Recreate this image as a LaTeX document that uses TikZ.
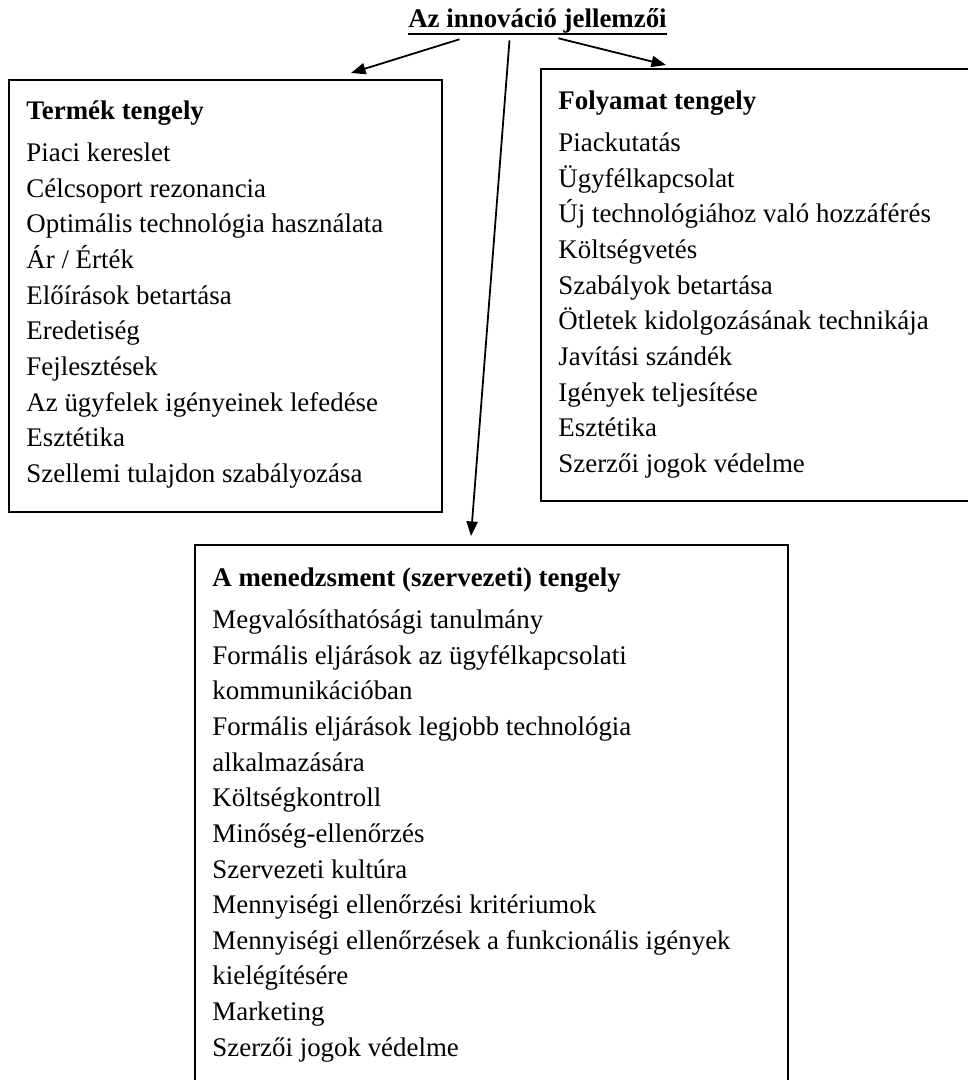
\documentclass[tikz,border=0pt]{standalone}
\usepackage{fontspec}
\setmainfont{Liberation Serif}
\usetikzlibrary{arrows.meta,positioning,calc,fit}
\newcommand{\alahuzott}[1]{\setbox0\hbox{#1}\rlap{\raisebox{-3.5pt}{\rule{\wd0}{0.9pt}}}\box0}

\begin{document}
\begin{tikzpicture}[
  x=0.01568cm, y=-0.01568cm,
  box/.style={draw, rectangle, line width=0.9pt, inner sep=0pt},
  lista/.style={anchor=north west, inner sep=0pt, align=left, font=\fontsize{12}{15.9}\selectfont},
  >={Triangle[length=6.5pt,width=5pt]}
]
  \useasboundingbox (0,0) rectangle (968,1080);

  % Title
  \node[inner sep=0pt, anchor=base, font=\fontsize{12}{15.9}\selectfont\bfseries] (titel) at (537.5,27) {\alahuzott{Az innováció jellemzői}};

  % Boxes
  \node[box, fit={(9,80) (442,512)}] (termek) {};
  \node[box, fit={(541,69) (975,501)}] (folyamat) {};
  \node[box, fit={(195,545) (788,1090)}] (menedzsment) {};

  % Product axis
  \node[lista] (termeklista) at ($(termek.north west)+(18,15)$) {\strut\textbf{Termék tengely}\\[3pt]
    Piaci kereslet\\
    Célcsoport rezonancia\\
    Optimális technológia használata\\
    Ár / Érték\\
    Előírások betartása\\
    Eredetiség\\
    Fejlesztések\\
    Az ügyfelek igényeinek lefedése\\
    Esztétika\\
    Szellemi tulajdon szabályozása};

  % Process axis
  \node[lista] (folyamatlista) at ($(folyamat.north west)+(18,16)$) {\strut\textbf{Folyamat tengely}\\[3pt]
    Piackutatás\\
    Ügyfélkapcsolat\\
    Új technológiához való hozzáférés\\
    Költségvetés\\
    Szabályok betartása\\
    Ötletek kidolgozásának technikája\\
    Javítási szándék\\
    Igények teljesítése\\
    Esztétika\\
    Szerzői jogok védelme};

  % Management axis
  \node[lista] (menedzsmentlista) at ($(menedzsment.north west)+(18,17)$) {\strut\textbf{A menedzsment (szervezeti) tengely}\\[3pt]
    Megvalósíthatósági tanulmány\\
    Formális eljárások az ügyfélkapcsolati\\
    kommunikációban\\
    Formális eljárások legjobb technológia\\
    alkalmazására\\
    Költségkontroll\\
    Minőség-ellenőrzés\\
    Szervezeti kultúra\\
    Mennyiségi ellenőrzési kritériumok\\
    Mennyiségi ellenőrzések a funkcionális igények\\
    kielégítésére\\
    Marketing\\
    Szerzői jogok védelme};

  \draw[->, line width=0.8pt] ($(titel.south)+(-78,4)$) -- ($(termek.north west)+(343,-6)$);
  \draw[->, line width=0.8pt] ($(titel.south)+(-28,5)$) -- ($(menedzsment.north west)+(277,-8)$);
  \draw[->, line width=0.8pt] ($(titel.south)+(21,3)$) -- ($(folyamat.north west)+(126,-3)$);
\end{tikzpicture}
\end{document}
